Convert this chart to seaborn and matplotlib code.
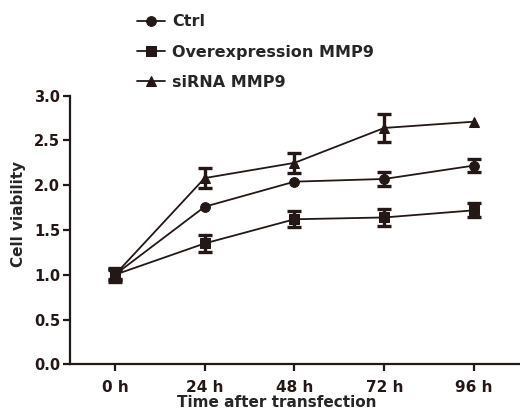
import matplotlib
import matplotlib.pyplot as plt
import seaborn as sns
import pandas as pd

matplotlib.use('Agg')

# data
hours = [0, 24, 48, 72, 96]
hour_labels = ['0 h', '24 h', '48 h', '72 h', '96 h']
groups = ['Ctrl', 'Overexpression MMP9', 'siRNA MMP9']
ctrl_mean = [1.00, 1.76, 2.04, 2.07, 2.22]
ctrl_sd = [0.06, 0.0, 0.0, 0.076, 0.07]
over_mean = [1.00, 1.35, 1.62, 1.64, 1.72]
over_sd = [0.08, 0.095, 0.09, 0.09, 0.08]
sirna_mean = [1.00, 2.08, 2.25, 2.64, 2.71]
sirna_sd = [0.05, 0.11, 0.11, 0.16, 0.0]

ink = '#231815'

# long table for seaborn
rows = []
for g, m, s in zip(groups, [ctrl_mean, over_mean, sirna_mean], [ctrl_sd, over_sd, sirna_sd]):
    for h, v, e in zip(hours, m, s):
        rows.append({'hours': h, 'viability': v, 'sd': e, 'group': g})
df = pd.DataFrame(rows)

sns.set_style('ticks')
plt.rcParams['font.family'] = ['DejaVu Sans']
plt.rcParams['font.weight'] = 'bold'

fig = plt.figure(figsize=(5.2, 4.12), dpi=100)
ax = fig.add_axes([0.1346, 0.1158, 0.8634, 0.6519])

sns.lineplot(data=df, x='hours', y='viability', hue='group', style='group',
             hue_order=groups, style_order=groups,
             palette=[ink] * 3, markers={'Ctrl': 'o', 'Overexpression MMP9': 's', 'siRNA MMP9': '^'},
             dashes=False, linewidth=1.3, markersize=7, markeredgecolor=ink,
             errorbar=None, ax=ax)

# error bars (only where visible beyond the marker)
for g in groups:
    sub = df[(df['group'] == g) & (df['sd'] > 0)]
    ax.errorbar(sub['hours'], sub['viability'], yerr=sub['sd'], fmt='none',
                ecolor=ink, elinewidth=2.4, capsize=5, capthick=2.4, zorder=3)

ax.set_xlim(-12, 108)
ax.set_ylim(0, 3.0)
ax.set_xticks(hours)
ax.set_xticklabels(hour_labels, fontsize=11, fontweight='bold')
ax.set_yticks([0.0, 0.5, 1.0, 1.5, 2.0, 2.5, 3.0])
ax.set_yticklabels(['0.0', '0.5', '1.0', '1.5', '2.0', '2.5', '3.0'], fontsize=10.5, fontweight='bold')
ax.set_xlabel('Time after transfection', fontsize=11, fontweight='bold')
ax.set_ylabel('Cell viability', fontsize=11, fontweight='bold')
ax.xaxis.set_label_coords(0.46, -0.116)
ax.yaxis.set_label_coords(-0.097, 0.56)

sns.despine(ax=ax)
for side in ['left', 'bottom']:
    ax.spines[side].set_linewidth(1.6)
    ax.spines[side].set_color(ink)
ax.tick_params(axis='both', direction='out', length=5, width=1.6, color=ink, labelcolor=ink, pad=2)
ax.tick_params(axis='x', pad=6)

handles, labels = ax.get_legend_handles_labels()
ax.legend(handles, labels, loc='upper left', bbox_to_anchor=(0.236, 1.0),
          bbox_transform=fig.transFigure, frameon=False,
          handlelength=1.75, handletextpad=0.45, labelspacing=0.95,
          prop={'weight': 'bold', 'size': 11.5})

plt.savefig('out.png', dpi=100)
